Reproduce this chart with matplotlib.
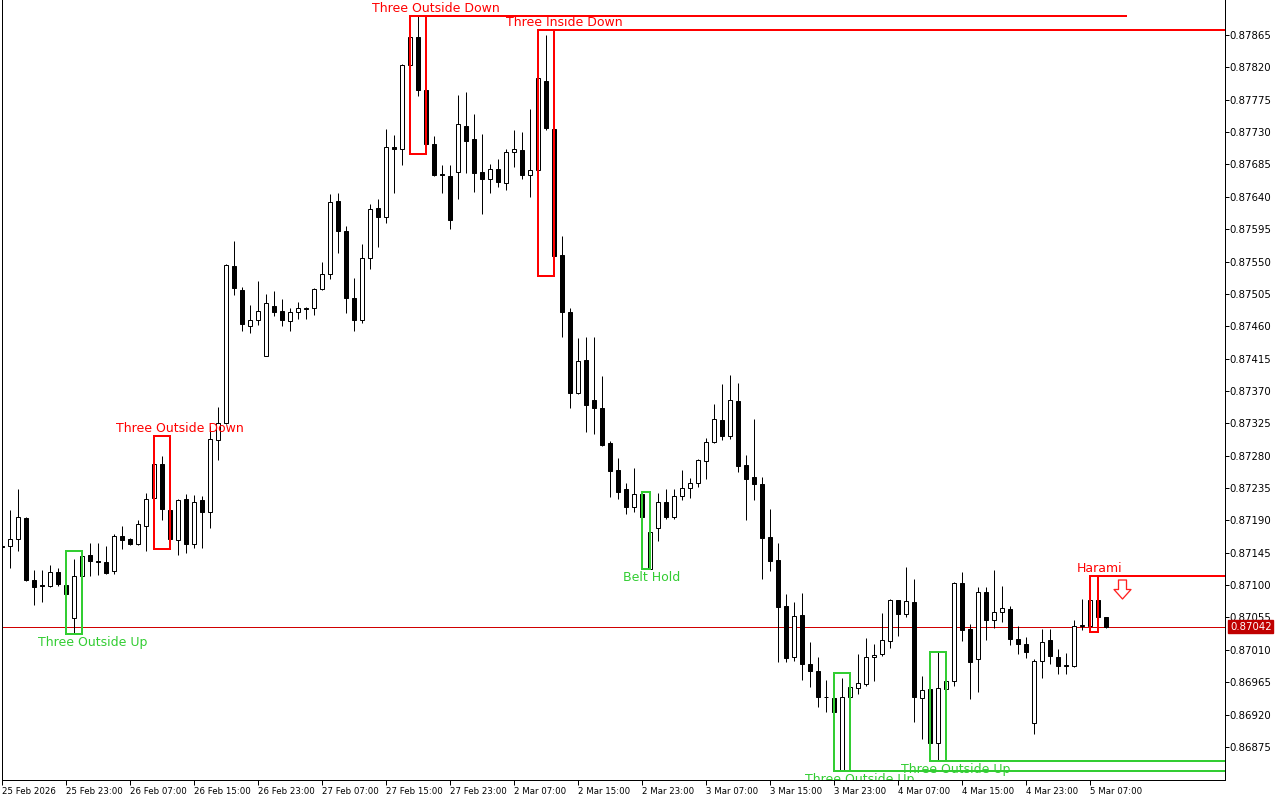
import matplotlib
matplotlib.use("Agg")
import matplotlib.pyplot as plt
from matplotlib.patches import Rectangle
from matplotlib.path import Path
import matplotlib.transforms as mtransforms

# ---------------- data (EURGBP-like H1 candles) ----------------
opens = [0.87155, 0.87155, 0.87164, 0.87193, 0.87107, 0.87100, 0.87099, 0.87118, 0.87100, 0.87054,
         0.87113, 0.87142, 0.87134, 0.87132, 0.87119, 0.87169, 0.87164, 0.87157, 0.87182, 0.87221,
         0.87268, 0.87205, 0.87163, 0.87220, 0.87157, 0.87218, 0.87202, 0.87302, 0.87325, 0.87544,
         0.87511, 0.87461, 0.87468, 0.87419, 0.87488, 0.87481, 0.87467, 0.87480, 0.87486, 0.87485,
         0.87512, 0.87533, 0.87634, 0.87593, 0.87499, 0.87468, 0.87555, 0.87624, 0.87612, 0.87709,
         0.87706, 0.87824, 0.87862, 0.87788, 0.87714, 0.87672, 0.87669, 0.87674, 0.87738, 0.87721,
         0.87675, 0.87665, 0.87678, 0.87659, 0.87702, 0.87705, 0.87670, 0.87677, 0.87801, 0.87735,
         0.87559, 0.87480, 0.87367, 0.87413, 0.87358, 0.87346, 0.87297, 0.87260, 0.87233, 0.87208,
         0.87227, 0.87123, 0.87179, 0.87215, 0.87195, 0.87224, 0.87235, 0.87242, 0.87273, 0.87299,
         0.87329, 0.87307, 0.87356, 0.87267, 0.87250, 0.87240, 0.87167, 0.87135, 0.87071, 0.87000,
         0.87059, 0.86991, 0.86981, 0.86945, 0.86943, 0.86843, 0.86944, 0.86957, 0.86962, 0.87000,
         0.87004, 0.87022, 0.87079, 0.87060, 0.87076, 0.86943, 0.86956, 0.86881, 0.86955, 0.86966,
         0.87103, 0.87039, 0.86997, 0.87091, 0.87051, 0.87062, 0.87067, 0.87025, 0.87018, 0.86908,
         0.86995, 0.87023, 0.87000, 0.86989, 0.86988, 0.87043, 0.87043, 0.87080, 0.87056]
highs = [0.87159, 0.87205, 0.87234, 0.87195, 0.87121, 0.87121, 0.87128, 0.87124, 0.87114, 0.87136,
         0.87148, 0.87159, 0.87158, 0.87155, 0.87171, 0.87182, 0.87165, 0.87191, 0.87228, 0.87307,
         0.87280, 0.87227, 0.87220, 0.87227, 0.87226, 0.87224, 0.87321, 0.87348, 0.87547, 0.87579,
         0.87515, 0.87490, 0.87523, 0.87505, 0.87509, 0.87498, 0.87485, 0.87494, 0.87487, 0.87513,
         0.87549, 0.87644, 0.87645, 0.87600, 0.87527, 0.87575, 0.87630, 0.87637, 0.87734, 0.87726,
         0.87825, 0.87871, 0.87892, 0.87789, 0.87724, 0.87684, 0.87684, 0.87782, 0.87786, 0.87755,
         0.87728, 0.87686, 0.87693, 0.87707, 0.87733, 0.87730, 0.87762, 0.87872, 0.87865, 0.87754,
         0.87585, 0.87485, 0.87443, 0.87445, 0.87445, 0.87391, 0.87301, 0.87277, 0.87242, 0.87263,
         0.87229, 0.87216, 0.87228, 0.87234, 0.87234, 0.87260, 0.87249, 0.87275, 0.87304, 0.87352,
         0.87380, 0.87392, 0.87381, 0.87281, 0.87331, 0.87250, 0.87206, 0.87158, 0.87087, 0.87076,
         0.87089, 0.87021, 0.87000, 0.86968, 0.86946, 0.86971, 0.86978, 0.87004, 0.87026, 0.87018,
         0.87061, 0.87081, 0.87080, 0.87125, 0.87109, 0.86974, 0.86957, 0.87007, 0.86993, 0.87104,
         0.87118, 0.87046, 0.87097, 0.87097, 0.87121, 0.87099, 0.87071, 0.87043, 0.87028, 0.86997,
         0.87039, 0.87039, 0.87011, 0.87006, 0.87051, 0.87081, 0.87089, 0.87113, 0.87056]
lows = [0.87149, 0.87124, 0.87148, 0.87106, 0.87072, 0.87076, 0.87098, 0.87099, 0.87081, 0.87032,
        0.87089, 0.87113, 0.87114, 0.87116, 0.87116, 0.87150, 0.87156, 0.87156, 0.87148, 0.87207,
        0.87191, 0.87150, 0.87142, 0.87145, 0.87151, 0.87151, 0.87179, 0.87274, 0.87324, 0.87504,
        0.87453, 0.87451, 0.87462, 0.87418, 0.87474, 0.87460, 0.87454, 0.87470, 0.87470, 0.87475,
        0.87510, 0.87526, 0.87562, 0.87479, 0.87454, 0.87465, 0.87539, 0.87570, 0.87604, 0.87645,
        0.87684, 0.87784, 0.87780, 0.87700, 0.87669, 0.87646, 0.87595, 0.87637, 0.87673, 0.87647,
        0.87616, 0.87646, 0.87653, 0.87649, 0.87681, 0.87665, 0.87640, 0.87640, 0.87733, 0.87530,
        0.87445, 0.87346, 0.87366, 0.87313, 0.87310, 0.87294, 0.87223, 0.87220, 0.87199, 0.87202,
        0.87188, 0.87122, 0.87162, 0.87192, 0.87192, 0.87218, 0.87221, 0.87237, 0.87247, 0.87297,
        0.87302, 0.87303, 0.87257, 0.87191, 0.87218, 0.87109, 0.87120, 0.86993, 0.86993, 0.86994,
        0.86968, 0.86958, 0.86930, 0.86923, 0.86906, 0.86842, 0.86881, 0.86949, 0.86960, 0.86967,
        0.87002, 0.87013, 0.87029, 0.87056, 0.86910, 0.86886, 0.86857, 0.86855, 0.86907, 0.86960,
        0.87022, 0.86941, 0.86952, 0.87023, 0.87040, 0.87049, 0.87017, 0.87004, 0.86999, 0.86893,
        0.86971, 0.86991, 0.86976, 0.86976, 0.86986, 0.87038, 0.87042, 0.87035, 0.87041]
closes = [0.87153, 0.87164, 0.87195, 0.87107, 0.87098, 0.87099, 0.87118, 0.87101, 0.87087, 0.87113,
          0.87141, 0.87133, 0.87132, 0.87117, 0.87168, 0.87163, 0.87157, 0.87185, 0.87220, 0.87268,
          0.87206, 0.87164, 0.87218, 0.87157, 0.87216, 0.87202, 0.87303, 0.87326, 0.87545, 0.87513,
          0.87463, 0.87469, 0.87481, 0.87492, 0.87480, 0.87469, 0.87480, 0.87486, 0.87484, 0.87512,
          0.87533, 0.87633, 0.87593, 0.87499, 0.87468, 0.87555, 0.87623, 0.87612, 0.87709, 0.87706,
          0.87824, 0.87862, 0.87789, 0.87713, 0.87670, 0.87671, 0.87608, 0.87741, 0.87717, 0.87673,
          0.87665, 0.87679, 0.87660, 0.87702, 0.87706, 0.87670, 0.87677, 0.87805, 0.87736, 0.87558,
          0.87480, 0.87367, 0.87411, 0.87350, 0.87346, 0.87295, 0.87259, 0.87230, 0.87208, 0.87227,
          0.87195, 0.87174, 0.87215, 0.87195, 0.87224, 0.87235, 0.87242, 0.87274, 0.87299, 0.87331,
          0.87308, 0.87358, 0.87265, 0.87248, 0.87240, 0.87166, 0.87134, 0.87070, 0.86999, 0.87057,
          0.86990, 0.86981, 0.86944, 0.86944, 0.86924, 0.86944, 0.86958, 0.86964, 0.87000, 0.87003,
          0.87023, 0.87079, 0.87060, 0.87078, 0.86944, 0.86954, 0.86881, 0.86957, 0.86966, 0.87103,
          0.87037, 0.86993, 0.87091, 0.87051, 0.87062, 0.87068, 0.87025, 0.87018, 0.87007, 0.86995,
          0.87021, 0.87001, 0.86988, 0.86988, 0.87043, 0.87044, 0.87080, 0.87055, 0.87042]

time_labels = ["25 Feb 2026", "25 Feb 23:00", "26 Feb 07:00", "26 Feb 15:00", "26 Feb 23:00",
               "27 Feb 07:00", "27 Feb 15:00", "27 Feb 23:00", "2 Mar 07:00", "2 Mar 15:00",
               "2 Mar 23:00", "3 Mar 07:00", "3 Mar 15:00", "3 Mar 23:00", "4 Mar 07:00",
               "4 Mar 15:00", "4 Mar 23:00", "5 Mar 07:00"]
label_step = 8  # bars between time labels

price_ticks = [0.86875, 0.86920, 0.86965, 0.87010, 0.87055, 0.87100, 0.87145, 0.87190, 0.87235,
               0.87280, 0.87325, 0.87370, 0.87415, 0.87460, 0.87505, 0.87550, 0.87595, 0.87640,
               0.87685, 0.87730, 0.87775, 0.87820, 0.87865]

# candlestick patterns detected
pattern_names = ["Three Outside Up", "Three Outside Down", "Three Outside Down", "Three Inside Down",
                 "Belt Hold", "Three Outside Up", "Three Outside Up", "Harami"]
pattern_first = [8, 19, 51, 67, 80, 104, 116, 136]
pattern_last = [10, 21, 53, 69, 81, 106, 118, 137]
pattern_bullish = [True, False, False, False, True, True, True, False]

# layout / style of pattern annotations
label_shift = [1.3, 1.2, 1.2, 1.2, 0.2, 1.2, 1.2, 0.2]          # bars right of last candle
level_end = [None, None, 140.6, 160, None, 160, 160, 160]        # bar where level line ends
arrow_pattern = 7
arrow_shift = 3

# ---------------- figure ----------------
W, H, DPI = 1280, 800, 100
fig = plt.figure(figsize=(W / DPI, H / DPI), dpi=DPI)
fig.patch.set_facecolor("white")
ax = fig.add_axes([2 / W, 20 / H, 1223 / W, 780 / H])
ax.set_facecolor("white")

n = len(opens)
xs = list(range(n))

RED = "#FF0000"
GREEN = "#32CD32"
px = 72.0 / DPI  # points per pixel

# current price line
last = closes[-1]
ax.axhline(last, color="#D00000", lw=1 * px, zorder=1)

# candles
ax.vlines(xs, lows, highs, color="black", lw=1 * px, zorder=3)
for i in xs:
    o, c = opens[i], closes[i]
    bull = c > o
    bottom = min(o, c)
    h = abs(c - o)
    ax.add_patch(Rectangle((i - 0.25, bottom), 0.5, h,
                           facecolor="white" if bull else "black",
                           edgecolor="black", lw=1 * px, zorder=4))

# pattern boxes, levels and labels
for k, name in enumerate(pattern_names):
    a, b = pattern_first[k], pattern_last[k]
    top = max(highs[a:b + 1])
    bot = min(lows[a:b + 1])
    col = GREEN if pattern_bullish[k] else RED
    ax.add_patch(Rectangle((a, bot), b - a, top - bot, fill=False,
                           edgecolor=col, lw=2 * px, zorder=5))
    if level_end[k] is not None:
        lvl = bot if pattern_bullish[k] else top
        ax.plot([b, level_end[k]], [lvl, lvl], color=col, lw=2 * px, zorder=5,
                solid_capstyle="butt")
    if pattern_bullish[k]:
        ax.annotate(name, xy=(b + label_shift[k], bot), xytext=(0, -2 * px),
                    textcoords="offset points", ha="center", va="top",
                    color=col, fontsize=9, zorder=6, annotation_clip=False,
                    clip_on=True)
    else:
        ax.annotate(name, xy=(b + label_shift[k], top), xytext=(0, 1 * px),
                    textcoords="offset points", ha="center", va="bottom",
                    color=col, fontsize=9, zorder=6, annotation_clip=False,
                    clip_on=True)

# hollow down arrow after the Harami
arrow_verts = [(-4, 9.5), (4, 9.5), (4, 0), (8.5, 0), (0, -9.5), (-8.5, 0), (-4, 0), (-4, 9.5)]
arrow_codes = [Path.MOVETO] + [Path.LINETO] * 6 + [Path.CLOSEPOLY]
arrow_marker = Path(arrow_verts, arrow_codes)
ap = arrow_pattern
arrow_y = max(highs[pattern_first[ap]:pattern_last[ap] + 1])
trans = mtransforms.offset_copy(ax.transData, fig=fig, x=-0.8 * px, y=-13 * px, units="points")
ax.plot([pattern_last[ap] + arrow_shift], [arrow_y], marker=arrow_marker, markersize=19 * px,
        markerfacecolor="white", markeredgecolor="#FF2020", markeredgewidth=1.3 * px,
        linestyle="none", transform=trans, zorder=7, clip_on=False)

# ---------------- axes ----------------
ax.set_xlim(-0.0375, -0.0375 + 1223 / 8)
ax.set_ylim(0.868290, 0.879137)

ax.spines["top"].set_visible(False)
for s in ("left", "right", "bottom"):
    ax.spines[s].set_color("black")
    ax.spines[s].set_linewidth(1 * px)

ax.yaxis.tick_right()
ax.set_yticks(price_ticks)
ax.set_yticklabels([f"{p:.5f}" for p in price_ticks])
ax.tick_params(axis="y", direction="out", length=4 * px, width=1 * px, pad=0.5,
               labelsize=7.3, colors="black")

ax.set_xticks([i * label_step for i in range(len(time_labels))])
ax.set_xticklabels(time_labels)
ax.tick_params(axis="x", direction="out", length=5 * px, width=1 * px, pad=1.5,
               labelsize=6.2, colors="black")
for lbl in ax.get_xticklabels():
    lbl.set_ha("left")
    lbl.set_fontfamily("DejaVu Sans")

# price tag
ax.annotate(f"{last:.5f}", xy=(1.0, last), xycoords=("axes fraction", "data"),
            xytext=(5 * px, 0), textcoords="offset points", ha="left", va="center",
            color="white", fontsize=7.3, annotation_clip=False, zorder=10,
            bbox=dict(boxstyle="square,pad=0.15", facecolor="#C00000", edgecolor="#C00000"))

fig.savefig("out.png", dpi=DPI)
